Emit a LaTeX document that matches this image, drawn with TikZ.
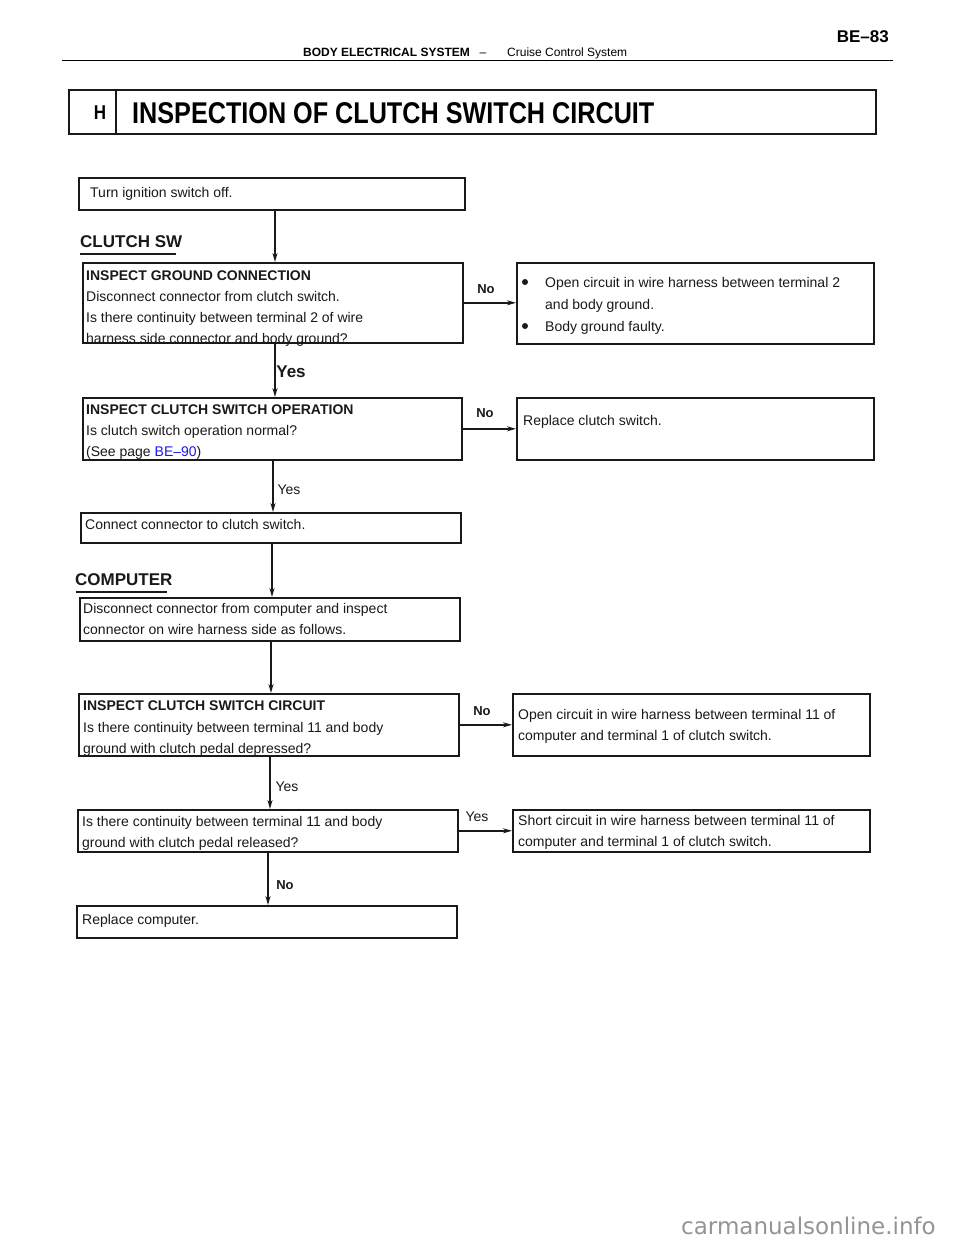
\documentclass[tikz,border=0pt]{standalone}
\usepackage{fontspec}
\setmainfont{Liberation Sans}
\newfontfamily\wmfont{DejaVu Sans}
\usetikzlibrary{arrows.meta}
\definecolor{linkblue}{RGB}{25,25,235}
\definecolor{ink}{RGB}{25,25,25}
\begin{document}
\begin{tikzpicture}[x=1pt,y=-1pt,
  box/.style={draw=ink, line width=1.6pt, inner sep=0pt, anchor=north west},
  t/.style={font=\fontsize{14}{16}\selectfont, inner sep=0pt, anchor=base west, text=ink},
  tb/.style={font=\fontsize{14}{16}\selectfont\bfseries, inner sep=0pt, anchor=base west, text=ink},
  lab/.style={font=\fontsize{13}{15}\selectfont\bfseries, inner sep=0pt, text=ink},
  labr/.style={font=\fontsize{14}{16}\selectfont, inner sep=0pt, text=ink},
  sect/.style={font=\fontsize{17}{19}\selectfont\bfseries, inner sep=0pt, anchor=base west, text=ink},
  bul/.style={circle, fill=ink, inner sep=0pt, minimum size=6pt},
  arr/.style={draw=ink, line width=1.6pt, -{Stealth[length=9pt,width=5pt]}}
]
\useasboundingbox (0,0) rectangle (960,1242);
\fill[white] (0,0) rectangle (960,1242);

% page header
\node[font=\fontsize{12}{14}\selectfont\bfseries, inner sep=0pt, anchor=base west] (hd1) at (303,56) {BODY ELECTRICAL SYSTEM};
\node[font=\fontsize{12}{14}\selectfont, inner sep=0pt, anchor=base] (hdd) at (483,56) {--};
\node[font=\fontsize{12}{14}\selectfont, inner sep=0pt, anchor=base west] (hd2) at (507,56) {Cruise Control System};
\node[font=\fontsize{17}{19}\selectfont\bfseries, inner sep=0pt, anchor=base east] (pg) at (889,42) {BE--83};
\draw[line width=1.8pt] (62,60.5) -- (893,60.5);

% title bar
\node[box, line width=2pt, minimum width=807pt, minimum height=44pt] (tbar) at (68,89) {};
\coordinate (hdiv) at (116,0);
\draw[line width=2pt, draw=ink] (tbar.north west -| hdiv) -- (tbar.south west -| hdiv);
\node[font=\fontsize{20}{22}\selectfont\bfseries, inner sep=0pt, anchor=base] (hh) at (100,119) {\scalebox{0.85}[1]{H}};
\node[font=\fontsize{30}{32}\selectfont\bfseries, inner sep=0pt, anchor=base west] (title) at (132,123) {\scalebox{0.84}[1]{INSPECTION OF CLUTCH SWITCH CIRCUIT}};

% box 1
\node[box, minimum width=386pt, minimum height=32pt] (b1) at (78,177) {};
\node[t] (b1t) at (90,197) {Turn ignition switch off.};

% CLUTCH SW
\node[sect] (csw) at (80,247) {CLUTCH SW};
\draw[line width=2.5pt, draw=ink] (80,254) -- (176,254);

% box 2
\node[box, minimum width=380pt, minimum height=80pt] (b2) at (82,262) {};
\node[tb] (b2a) at (86,280) {INSPECT GROUND CONNECTION};
\node[t] (b2b) at (86,301) {Disconnect connector from clutch switch.};
\node[t] (b2c) at (86,322) {Is there continuity between terminal 2 of wire};
\node[t] (b2d) at (86,343) {harness side connector and body ground?};

\node[box, minimum width=357pt, minimum height=81pt] (r2) at (516,262) {};
\node[bul] (r2u1) at (525,282) {};
\node[t] (r2a) at (545,287) {Open circuit in wire harness between terminal 2};
\node[t] (r2b) at (545,309) {and body ground.};
\node[bul] (r2u2) at (525,326) {};
\node[t] (r2c) at (545,331) {Body ground faulty.};
\draw[arr] (b2.east) -- (b2.east -| r2.west);
\node[lab] (no1) at (486,289) {No};

% box 3
\node[box, minimum width=379pt, minimum height=62pt] (b3) at (82,397) {};
\node[tb] (b3a) at (86,414) {INSPECT CLUTCH SWITCH OPERATION};
\node[t] (b3b) at (86,435) {Is clutch switch operation normal?};
\node[t] (b3c) at (86,456) {(See page \textcolor{linkblue}{BE--90})};

\node[box, minimum width=357pt, minimum height=62pt] (r3) at (516,397) {};
\node[t] (r3a) at (523,425) {Replace clutch switch.};
\draw[arr] (b3.east) -- (b3.east -| r3.west);
\node[lab] (no2) at (485,413) {No};

\node[font=\fontsize{17}{19}\selectfont\bfseries, inner sep=0pt, text=ink] (yes1) at (291,372) {Yes};

% box 4
\node[box, minimum width=380pt, minimum height=30pt] (b4) at (80,512) {};
\node[t] (b4a) at (85,529) {Connect connector to clutch switch.};
\node[labr] (yes2) at (289,490) {Yes};

% COMPUTER
\node[sect] (comp) at (75,585) {COMPUTER};
\draw[line width=2.5pt, draw=ink] (76,592) -- (167,592);

% box 5
\node[box, minimum width=380pt, minimum height=43pt] (b5) at (79,597) {};
\node[t] (b5a) at (83,613) {Disconnect connector from computer and inspect};
\node[t] (b5b) at (83,634) {connector on wire harness side as follows.};

% box 6
\node[box, minimum width=380pt, minimum height=62pt] (b6) at (78,693) {};
\node[tb] (b6a) at (83,710) {INSPECT CLUTCH SWITCH CIRCUIT};
\node[t] (b6b) at (83,732) {Is there continuity between terminal 11 and body};
\node[t] (b6c) at (83,753) {ground with clutch pedal depressed?};

\node[box, minimum width=357pt, minimum height=62pt] (r6) at (512,693) {};
\node[t] (r6a) at (518,719) {Open circuit in wire harness between terminal 11 of};
\node[t] (r6b) at (518,740) {computer and terminal 1 of clutch switch.};
\draw[arr] (b6.east) -- (b6.east -| r6.west);
\node[lab] (no3) at (482,711) {No};
\node[labr] (yes3) at (287,787) {Yes};

% box 7
\node[box, minimum width=380pt, minimum height=42pt] (b7) at (77,809) {};
\node[t] (b7a) at (82,826) {Is there continuity between terminal 11 and body};
\node[t] (b7b) at (82,847) {ground with clutch pedal released?};

\node[box, minimum width=357pt, minimum height=42pt] (r7) at (512,809) {};
\node[t] (r7a) at (518,825) {Short circuit in wire harness between terminal 11 of};
\node[t] (r7b) at (518,846) {computer and terminal 1 of clutch switch.};
\draw[arr] (b7.east) -- (b7.east -| r7.west);
\node[labr] (yes4) at (477,817) {Yes};
\node[lab] (no4) at (285,885) {No};

% box 8
\node[box, minimum width=380pt, minimum height=32pt] (b8) at (76,905) {};
\node[t] (b8a) at (82,924) {Replace computer.};

% vertical connectors
\coordinate (v1) at (275,0);
\coordinate (v2) at (275,0);
\coordinate (v3) at (273,0);
\coordinate (v4) at (272,0);
\coordinate (v5) at (271,0);
\coordinate (v6) at (270,0);
\coordinate (v7) at (268,0);
\draw[arr] (b1.south -| v1) -- (b2.north -| v1);
\draw[arr] (b2.south -| v2) -- (b3.north -| v2);
\draw[arr] (b3.south -| v3) -- (b4.north -| v3);
\draw[arr] (b4.south -| v4) -- (b5.north -| v4);
\draw[arr] (b5.south -| v5) -- (b6.north -| v5);
\draw[arr] (b6.south -| v6) -- (b7.north -| v6);
\draw[arr] (b7.south -| v7) -- (b8.north -| v7);

% watermark
\node[font=\wmfont\fontsize{23}{25}\selectfont, text=black!42, inner sep=0pt, anchor=base west] (wm) at (681,1234) {carmanualsonline.info};
\end{tikzpicture}
\end{document}
